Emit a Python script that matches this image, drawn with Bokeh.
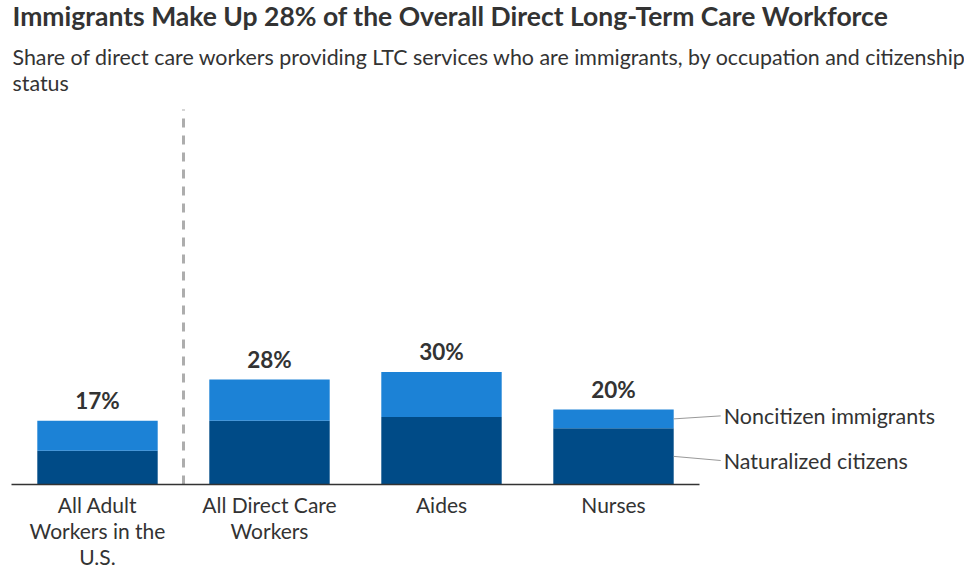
from bokeh.plotting import figure
from bokeh.models import Range1d, FixedTicker, Label, LabelSet, ColumnDataSource
from bokeh.core.properties import value
from bokeh.embed import file_html
from bokeh.resources import INLINE

# ---- data ----
categories = ["All Adult\nWorkers in the\nU.S.", "All Direct Care\nWorkers", "Aides", "Nurses"]
naturalized = [9, 17, 18, 15]
noncitizen = [8, 11, 12, 5]
totals = [17, 28, 30, 20]
total_labels = ["17%", "28%", "30%", "20%"]
series_names = ["Noncitizen immigrants", "Naturalized citizens"]

title_text = "Immigrants Make Up 28% of the Overall Direct Long-Term Care Workforce"
subtitle_lines = ["Share of direct care workers providing LTC services who are immigrants, by occupation and citizenship",
                  "status"]

DARK = "#004b87"
LIGHT = "#1c82d6"
TEXT = "#333333"
FONT = "Lato"

xs = list(range(len(categories)))
stack_top = [n + c for n, c in zip(naturalized, noncitizen)]
src = ColumnDataSource(dict(x=xs, nat=naturalized, top=stack_top, total=totals, lab=total_labels))

# ---- geometry ----
W, H = 964, 574
FRAME_BOTTOM = 484          # px from top of figure
PX_PER_CAT = 172
PX_PER_PCT = 3.75
LEFT_PAD = 11
x_start = -0.5 - LEFT_PAD / PX_PER_CAT
x_end = -0.5 + (W - LEFT_PAD) / PX_PER_CAT
y_end = FRAME_BOTTOM / PX_PER_PCT

p = figure(width=W, height=H, output_backend="svg", toolbar_location=None,
           x_range=Range1d(x_start, x_end), y_range=Range1d(0, y_end),
           min_border_left=0, min_border_right=0, min_border_top=0,
           min_border_bottom=H - FRAME_BOTTOM)
p.title.visible = False
p.outline_line_color = None
p.grid.visible = False
p.yaxis.visible = False
p.background_fill_color = "white"
p.border_fill_color = "white"

bw = 0.7
p.vbar(x="x", top="nat", bottom=0, width=bw, source=src, color=DARK, line_color=None)
p.vbar(x="x", top="top", bottom="nat", width=bw, source=src, color=LIGHT, line_color=None)

ax = p.xaxis[0]
ax.ticker = FixedTicker(ticks=xs)
ax.bounds = (-0.5, len(xs) - 0.5)
ax.major_label_overrides = {i: c for i, c in zip(xs, categories)}
ax.major_tick_line_color = None
ax.minor_tick_line_color = None
ax.axis_line_color = TEXT
ax.axis_line_width = 1.5
ax.major_label_text_font = FONT
ax.major_label_text_font_size = "21px"
ax.major_label_text_color = TEXT
ax.major_label_text_line_height = 1.05
ax.major_label_standoff = 1

# dashed separator between the benchmark and the LTC categories
p.segment(x0=[0.5], y0=[0], x1=[0.5], y1=[100], line_color="#adadad",
          line_width=3, line_dash="9 8")

# totals above bars
p.add_layout(LabelSet(x="x", y="top", text="lab", source=src, text_align="center",
                      text_baseline="alphabetic", y_offset=12, text_font=value(FONT),
                      text_font_size=value("22.5px"), text_font_style="bold", text_color=TEXT))

# direct labels for the series on the last bar
last = len(xs) - 1
xr = xs[last] + bw / 2
y_nc = naturalized[last] + noncitizen[last] / 2
y_na = naturalized[last] / 2
lead = 47 / PX_PER_CAT
p.segment(x0=[xr, xr], y0=[y_nc, y_na], x1=[xr + lead, xr + lead], y1=[y_nc + 0.8, y_na - 1.1],
          line_color="#999999", line_width=1)
p.add_layout(Label(x=xr, y=y_nc + 0.8, x_offset=50, text=series_names[0], text_baseline="middle",
                   text_font=FONT, text_font_size="21.5px", text_color=TEXT))
p.add_layout(Label(x=xr, y=y_na - 1.1, x_offset=50, text=series_names[1], text_baseline="middle",
                   text_font=FONT, text_font_size="21.5px", text_color=TEXT))

# title and subtitle
def ydata(fig_y):
    return (FRAME_BOTTOM - fig_y) / PX_PER_PCT
p.add_layout(Label(x=-0.5, y=ydata(15), x_offset=1, text=title_text, text_font=FONT,
                   text_font_size="26.5px", text_font_style="bold", text_color=TEXT,
                   text_baseline="alphabetic"))
p.add_layout(Label(x=-0.5, y=ydata(56), x_offset=1, text=subtitle_lines[0], text_font=FONT,
                   text_font_size="21.4px", text_color=TEXT, text_baseline="alphabetic"))
p.add_layout(Label(x=-0.5, y=ydata(82), x_offset=1, text=subtitle_lines[1], text_font=FONT,
                   text_font_size="21.4px", text_color=TEXT, text_baseline="alphabetic"))

open("out.html", "w").write(file_html(p, INLINE))
